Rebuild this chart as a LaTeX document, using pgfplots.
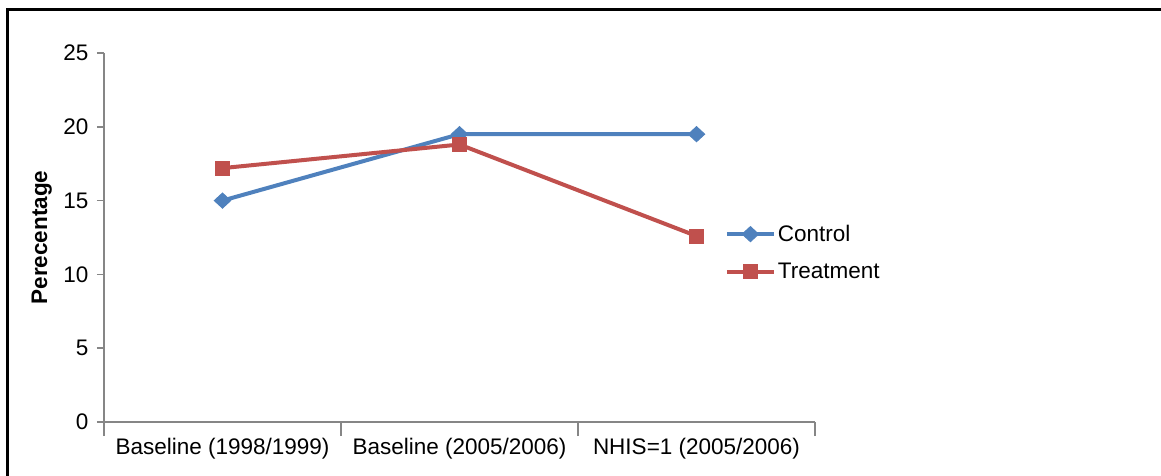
\documentclass[border=0pt]{standalone}
\usepackage{pgfplots}
\pgfplotsset{compat=1.18}
\usepackage{fontspec}
\setmainfont{Liberation Sans}
\definecolor{ctrl}{HTML}{4F81BD}
\definecolor{treat}{HTML}{C0504D}
\definecolor{axgray}{HTML}{868686}
\begin{document}
\begin{tikzpicture}
\useasboundingbox (0pt,0pt) rectangle (1161pt,476pt);
\draw[line width=3pt] (7pt,0pt) -- (7pt,466pt) -- (1161pt,466pt);
\begin{axis}[
  at={(104pt,54pt)}, anchor=south west,
  scale only axis, width=711pt, height=369pt,
  xmin=-0.5, xmax=2.5, ymin=0, ymax=25,
  axis lines*=left,
  axis line style={axgray, line width=1.5pt, -},
  every tick/.style={axgray, line width=1.5pt},
  xtick={0,1,2},
  xticklabels={Baseline (1998/1999), Baseline (2005/2006), NHIS=1 (2005/2006)},
  major x tick style={draw=none},
  minor xtick={-0.5,0.5,1.5,2.5},
  minor x tick style={axgray, line width=1.5pt},
  minor tick length=14pt,
  ytick={0,5,...,25},
  tick align=outside,
  major tick length=7pt,
  xtick pos=bottom, ytick pos=left,
  /pgf/number format/assume math mode=true,
  tick label style={font=\fontsize{22.5}{27}\selectfont},
  xticklabel style={yshift=-6pt},
  yticklabel style={xshift=-5pt},
  ylabel={Perecentage},
  ylabel style={font=\fontsize{22.5}{27}\selectfont\bfseries, at={(axis description cs:-0.0875,0.5)}, anchor=center},
  legend style={draw=none, fill=none, at={(axis description cs:0.873,0.459)}, anchor=west,
    font=\fontsize{22.5}{27}\selectfont, row sep=16pt, inner sep=0pt},
  legend cell align=left,
  legend image code/.code={
    \draw[mark repeat=2,mark phase=2] plot coordinates {(0pt,0pt) (23.5pt,0pt) (47pt,0pt)};
  },
]
\addplot[ctrl, line width=4pt, mark=diamond*, mark size=7.5pt, mark options={solid, line width=1pt, xscale=1.45}]
  coordinates {(0,15.0) (1,19.5) (2,19.5)};
\addlegendentry{Control}
\addplot[treat, line width=4pt, mark=square*, mark size=7pt, mark options={solid, line width=1pt}]
  coordinates {(0,17.2) (1,18.8) (2,12.6)};
\addlegendentry{Treatment}
\end{axis}
\end{tikzpicture}
\end{document}
